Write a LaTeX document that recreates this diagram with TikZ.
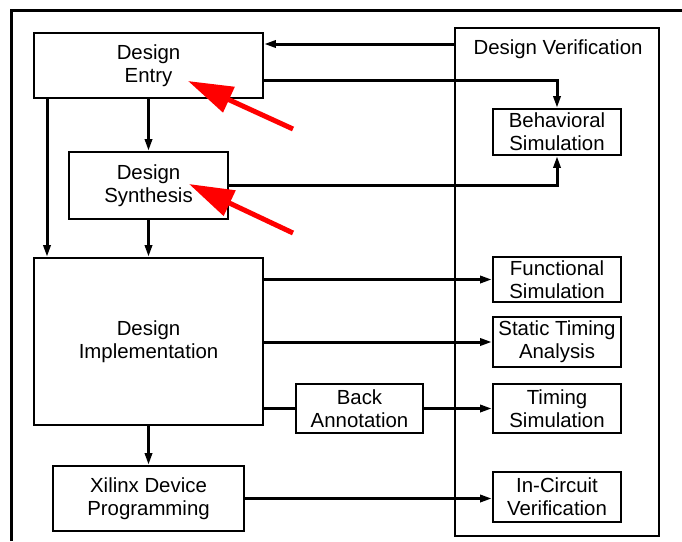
\documentclass[tikz,border=0pt]{standalone}
\usepackage{fontspec}
\setmainfont{Liberation Sans}
\usetikzlibrary{
    arrows.meta,
    positioning
}

\begin{document}
\begin{tikzpicture}[
  x=1pt,
  y=-1pt,
  every node/.style={align=center},
  font=\fontsize{20.4}{23}\selectfont,
  stagebox/.style={
    draw,
    line width=1.8pt,
    fill=white,
    inner sep=0pt
  },
  simbox/.style={
    stagebox,
    minimum width=128pt
  },
  groupbox/.style={
    draw,
    line width=1.6pt,
    inner sep=0pt
  },
  arrow/.style={-{Triangle[length=12pt,width=7pt]}, line width=3pt},
  wire/.style={line width=3pt},
  hint/.style={-{Triangle[length=45pt,width=27pt]}, line width=5pt, red},
  frame/.style={line width=3pt}
]
  \useasboundingbox (0,0) rectangle (682,541);
  \draw[frame] (11,541) -- (11,10) -- (682,10);

  % Verification column.
  \node[groupbox, minimum width=204pt, minimum height=508pt] (verif) at (557,282) {};
  \node (veriftitle) at (558,49) {Design Verification};
  \node[simbox, minimum height=46pt] (behav) at (557,132) {Behavioral\\Simulation};
  \node[simbox, minimum height=45pt] (funcsim) at (557,279.5) {Functional\\Simulation};
  \node[simbox, minimum height=50pt] (sta) at (557,342) {Static Timing\\Analysis};
  \node[simbox, minimum height=49pt] (timingsim) at (557,408.5) {Timing\\Simulation};
  \node[simbox, minimum height=50pt] (incircuit) at (557,497) {In-Circuit\\Verification};

  % Design flow.
  \node[stagebox, minimum width=229pt, minimum height=65pt] (entry) at (148.5,65.5) {Design\\Entry};
  \node[stagebox, minimum width=159pt, minimum height=67pt] (synth) at (148.5,185.5) {Design\\Synthesis};
  \node[stagebox, minimum width=229pt, minimum height=167pt] (impl) at (148.5,341.5) {Design\\Implementation};
  \node[stagebox, minimum width=191pt, minimum height=65pt] (xilinx) at (148.5,498.5) {Xilinx Device\\Programming};
  \node[stagebox, minimum width=127pt, minimum height=49pt] (backann) at (359.5,408.5) {Back\\Annotation};

  \draw[arrow] (entry.south -| 47,0) -- (impl.north -| 47,0);
  \draw[arrow] (entry.south) -- (synth.north);
  \draw[arrow] (synth.south) -- (impl.north);
  \draw[arrow] (impl.south) -- (xilinx.north);

  % Links to the verification steps.
  \draw[arrow] (verif.west |- 0,44) -- (entry.east |- 0,44);
  \draw[arrow] (entry.east |- 0,80) -| (behav.north);
  \draw[arrow] (synth.east |- 0,185) -| (behav.south);
  \draw[arrow] (impl.east |- funcsim.west) -- (funcsim.west);
  \draw[arrow] (impl.east |- sta.west) -- (sta.west);
  \draw[wire] (impl.east |- backann.west) -- (backann.west);
  \draw[arrow] (backann.east) -- (timingsim.west);
  \draw[arrow] (xilinx.east) -- (xilinx.east -| incircuit.west);

  % Red pointers.
  \coordinate (entryhint) at (293,129);
  \coordinate (entrymark) at (188,81);
  \coordinate (synthhint) at (293,233);
  \coordinate (synthmark) at (189,184);
  \draw[hint] (entryhint) -- (entrymark);
  \draw[hint] (synthhint) -- (synthmark);
\end{tikzpicture}
\end{document}
